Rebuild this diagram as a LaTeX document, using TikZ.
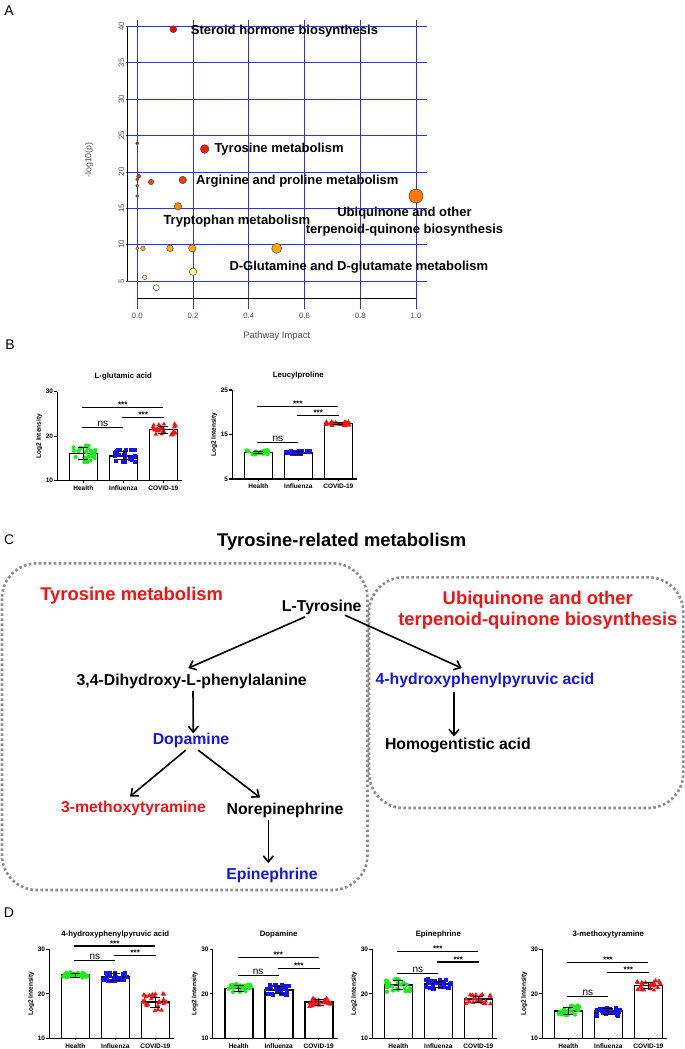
\documentclass[tikz,border=0pt]{standalone}
\usepackage{fontspec}
\setmainfont{Liberation Sans}
\usetikzlibrary{arrows.meta,calc}

\definecolor{gridblue}{RGB}{50,50,220}
\definecolor{ptgreen}{RGB}{30,235,30}
\definecolor{ptblue}{RGB}{20,20,235}
\definecolor{ptred}{RGB}{240,20,20}
\definecolor{boxgray}{RGB}{140,140,140}
\definecolor{txtred}{RGB}{240,20,20}
\definecolor{txtblue}{RGB}{20,20,230}
\definecolor{tickgray}{RGB}{80,80,80}

\newcommand{\fs}[1]{\fontsize{#1}{#1}\selectfont}

\tikzset{
  gridln/.style={draw=gridblue,line width=0.8},
  axisline/.style={line width=1.1,black},
  ticklab/.style={font=\bfseries\fs{6.5},inner sep=0},
  charttitle/.style={font=\bfseries\fs{7.8},inner sep=0},
  sigline/.style={line width=1.1,black},
  stars/.style={font=\bfseries\fs{8},anchor=base,inner sep=0},
  nslab/.style={font=\fs{10},anchor=base,inner sep=0},
  panellab/.style={font=\fs{14},inner sep=0},
  atick/.style={font=\fs{7.8},text=tickgray,inner sep=0},
  aname/.style={font=\bfseries\fs{13},inner sep=0},
  bubble/.style={draw=black!75,line width=0.45},
  cmp/.style={font=\bfseries\fs{15.8},inner sep=0,text height=11.5pt,text depth=3.3pt},
  redlab/.style={font=\bfseries\fontsize{18.4}{21.7}\selectfont,text=txtred,inner sep=0},
  arr/.style={-{Straight Barb[length=6pt,width=10pt]},line width=1.6},
  dotbox/.style={draw=boxgray,line width=2.6,dash pattern=on 2.6 off 2.4,rounded corners=35}
}

\newcommand{\mkG}[2]{\fill[ptgreen] (#1,#2) circle (2.1);}
\newcommand{\mkB}[2]{\fill[ptblue] (#1-2,#2-2) rectangle (#1+2,#2+2);}
\newcommand{\mkR}[2]{\fill[ptred] (#1,#2-2.6) -- (#1+2.3,#2+1.5) -- (#1-2.3,#2+1.5) -- cycle;}

% x0, ybottom, low, mid, high, title, y top sig, y second sig, y ns
\newcommand{\chartaxes}[9]{%
 \def\Xo{#1}\def\Yb{#2}\def\Vmin{#3}\def\Vmax{#5}%
 \draw[axisline] (#1,#2-89) -- (#1,#2) -- (#1+125,#2);
 \draw[axisline] (#1-3,#2) -- (#1,#2) (#1-3,#2-44.5) -- (#1,#2-44.5) (#1-3,#2-89) -- (#1,#2-89);
 \node[ticklab,anchor=east] (\Pn-ya) at (#1-4,#2) {#3};
 \node[ticklab,anchor=east] (\Pn-yb) at (#1-4,#2-44.5) {#4};
 \node[ticklab,anchor=east] (\Pn-yc) at (#1-4,#2-89) {#5};
 \draw[line width=0.6] (#1+26,#2) -- (#1+26,#2+2) (#1+66,#2) -- (#1+66,#2+2) (#1+106,#2) -- (#1+106,#2+2);
 \node[ticklab,rotate=90] (\Pn-yl) at (#1-18,#2-44.5) {Log2 Intensity};
 \node[charttitle] (\Pn-t) at (#1+66,#2-104) {#6};
 \node[ticklab] (\Pn-g1) at (#1+26,#2+7.5) {Health};
 \node[ticklab] (\Pn-g2) at (#1+66,#2+7.5) {Influenza};
 \node[ticklab] (\Pn-g3) at (#1+106,#2+7.5) {COVID-19};
 \draw[sigline] (#1+25,#7) -- (#1+106,#7);
 \node[stars] (\Pn-s1) at (#1+65.5,#7) {***};
 \draw[sigline] (#1+65,#8) -- (#1+107,#8);
 \node[stars] (\Pn-s2) at (#1+86,#8) {***};
 \draw[sigline] (#1+25,#9) -- (#1+66,#9);
 \node[nslab] (\Pn-ns) at (#1+45.5,#9-1) {ns};
}

% offset, mean, sd, marker, seed
\newcommand{\bgrp}[5]{%
 \pgfmathsetmacro\bCx{\Xo+#1}%
 \pgfmathsetmacro\bYt{\Yb-(#2-\Vmin)/(\Vmax-\Vmin)*89}%
 \pgfmathsetmacro\bYu{\Yb-(#2+#3-\Vmin)/(\Vmax-\Vmin)*89}%
 \pgfmathsetmacro\bYd{\Yb-(#2-#3-\Vmin)/(\Vmax-\Vmin)*89}%
 \pgfmathsetmacro\bYb{\Yb-0.6}%
 \filldraw[fill=white,draw=black,line width=1.6] (\bCx-14,\bYb) -- (\bCx-14,\bYt) -- (\bCx+14,\bYt) -- (\bCx+14,\bYb);
 \pgfmathsetseed{#5}%
 \foreach \i in {1,...,26}{%
   \pgfmathsetmacro\bPx{\bCx+12.5*rand}%
   \pgfmathsetmacro\bPy{\Yb-(#2+1.6*#3*rand-\Vmin)/(\Vmax-\Vmin)*89}%
   #4{\bPx}{\bPy}%
 }%
 \draw[line width=0.8] (\bCx,\bYu) -- (\bCx,\bYd) (\bCx-5,\bYu) -- (\bCx+5,\bYu) (\bCx-5,\bYd) -- (\bCx+5,\bYd);
}

\begin{document}
\begin{tikzpicture}[x=1pt,y=-1pt]
\useasboundingbox (0,0) rectangle (685,1049);
\fill[white] (0,0) rectangle (685,1049);

% ---------------- Panel A ----------------
\node[panellab] (labA) at (9,11) {A};
\foreach \v in {5,10,...,40}{
  \pgfmathsetmacro\yy{281-(\v-5)*7.2714}
  \draw[gridln] (126,\yy) -- (427,\yy);
  \node[atick,rotate=90] (ya\v) at (121.5,\yy) {\v};
}
\foreach \k/\l in {0/0.0,1/0.2,2/0.4,3/0.6,4/0.8,5/1.0}{
  \pgfmathsetmacro\xx{137.3+\k*55.74}
  \draw[gridln] (\xx,20) -- (\xx,309);
  \node[atick] (xa\k) at (\xx,315.5) {\l};
}
\draw[line width=0.9] (127,27.3) -- (127,281);
\draw[line width=0.9] (137.3,298) -- (416,298);
\node[font=\fs{8.8},text=tickgray,rotate=90,inner sep=0] (ylabA) at (89,160) {-log10(p)};
\node[font=\fs{9.4},text=tickgray,inner sep=0] (xlabA) at (276.7,335.7) {Pathway Impact};

\filldraw[bubble,fill={rgb,255:red,240;green,10;blue,0}] (173.3,29.3) circle (3.4);
\filldraw[bubble,fill={rgb,255:red,250;green,25;blue,0}] (204.7,149) circle (4.3);
\filldraw[bubble,fill={rgb,255:red,210;green,20;blue,0}] (137.3,143.3) circle (1.6);
\filldraw[bubble,fill={rgb,255:red,230;green,60;blue,0}] (138.7,176.3) circle (2);
\filldraw[bubble,fill={rgb,255:red,225;green,70;blue,0}] (137.3,179.3) circle (1.6);
\filldraw[bubble,fill={rgb,255:red,225;green,80;blue,0}] (137.3,185.7) circle (1.6);
\filldraw[bubble,fill={rgb,255:red,235;green,75;blue,0}] (151,182) circle (2.7);
\filldraw[bubble,fill={rgb,255:red,240;green,60;blue,0}] (182.7,180) circle (3.7);
\filldraw[bubble,fill={rgb,255:red,230;green,110;blue,0}] (137.3,196) circle (1.6);
\filldraw[bubble,fill={rgb,255:red,255;green,140;blue,0}] (178,206.3) circle (3.7);
\filldraw[bubble,fill={rgb,255:red,255;green,120;blue,0}] (416,196) circle (7);
\filldraw[bubble,fill={rgb,255:red,255;green,225;blue,60}] (137.3,248.3) circle (1.5);
\filldraw[bubble,fill={rgb,255:red,255;green,190;blue,0}] (143,248.3) circle (2.3);
\filldraw[bubble,fill={rgb,255:red,255;green,175;blue,0}] (170,248.3) circle (3.3);
\filldraw[bubble,fill={rgb,255:red,255;green,170;blue,0}] (192.3,248.3) circle (3.7);
\filldraw[bubble,fill={rgb,255:red,255;green,170;blue,0}] (276.7,248.3) circle (5);
\filldraw[bubble,fill={rgb,255:red,255;green,255;blue,130}] (193,271.7) circle (3.7);
\filldraw[bubble,fill={rgb,255:red,255;green,255;blue,190}] (144.7,277.3) circle (2.3);
\filldraw[bubble,fill={rgb,255:red,255;green,255;blue,235}] (156.3,287.7) circle (3);

\node[aname,anchor=west] (nSter) at (190.7,31) {Steroid hormone biosynthesis};
\node[aname,anchor=west] (nTyr) at (214.3,149) {Tyrosine metabolism};
\node[aname,anchor=west] (nArg) at (196,181.3) {Arginine and proline metabolism};
\node[aname,anchor=west] (nTrp) at (163.3,221) {Tryptophan metabolism};
\node[aname,align=center,font=\bfseries\fontsize{13}{16.7}\selectfont] (nUbq) at (404.5,221.7) {Ubiquinone and other\\terpenoid-quinone biosynthesis};
\node[aname,anchor=west] (nGlu) at (229.3,266.7) {D-Glutamine and D-glutamate metabolism};

% ---------------- Panel B ----------------
\node[panellab] (labB) at (10,345) {B};
\def\Pn{B1}
\chartaxes{57.3}{480.7}{10}{20}{30}{L-glutamic acid}{407.3}{417.3}{427.3}
\bgrp{26}{16.1}{1.4}{\mkG}{11}
\bgrp{66}{15.6}{0.9}{\mkB}{12}
\bgrp{106}{21.5}{0.8}{\mkR}{13}
\def\Pn{B2}
\chartaxes{232.3}{479}{5}{15}{25}{Leucylproline}{406.7}{415.7}{442.3}
\bgrp{26}{11}{0.3}{\mkG}{21}
\bgrp{66}{10.9}{0.3}{\mkB}{22}
\bgrp{106}{17.5}{0.3}{\mkR}{23}

% ---------------- Panel C ----------------
\node[panellab] (labC) at (9.3,539.3) {C};
\node[font=\bfseries\fs{18.4},inner sep=0] (ctitle) at (341.7,541.7) {Tyrosine-related metabolism};
\draw[dotbox] (2,563.3) rectangle (367.5,890);
\draw[dotbox] (369,577.3) rectangle (683.3,808);
\node[redlab] (tymet) at (131.7,596) {Tyrosine metabolism};
\node[redlab,align=center] (ubq) at (537.8,610.2) {Ubiquinone and other\\terpenoid-quinone biosynthesis};

\node[cmp] (ltyr) at (321.7,607.3) {L-Tyrosine};
\node[cmp] (dopa) at (191.7,681) {3,4-Dihydroxy-L-phenylalanine};
\node[cmp,text=txtblue] (dopam) at (191,740) {Dopamine};
\node[cmp,text=txtred] (mtyr) at (133.5,808.3) {3-methoxytyramine};
\node[cmp] (nore) at (285,810) {Norepinephrine};
\node[cmp,text=txtblue] (epi) at (272,875) {Epinephrine};
\node[cmp,text=txtblue] (hppa) at (485,680) {4-hydroxyphenylpyruvic acid};
\node[cmp] (hga) at (457.9,745) {Homogentistic acid};

\draw[arr] ([shift={(-16.7,2)}]ltyr.south) -- ([shift={(-3.4,-5.3)}]dopa.north);
\draw[arr] ([shift={(1.3,2.3)}]dopa.south) -- ([shift={(2.3,1)}]dopam.north);
\draw[arr] ([shift={(-5.3,2.6)}]dopam.south) -- ([shift={(-3.5,-4.2)}]mtyr.north);
\draw[arr] ([shift={(7.3,2.6)}]dopam.south) -- ([shift={(-25,-4.9)}]nore.north);
\draw[arr] ([shift={(-16.7,2.6)}]nore.south) -- ([shift={(-16.7,-4.3)}]epi.north -| nore.south);
\draw[arr] ([shift={(23.3,0.3)}]ltyr.south) -- ([shift={(-23.3,-4.3)}]hppa.north);
\draw[arr] ([shift={(-31,4.3)}]hppa.south) -- ([shift={(-3.9,-0.9)}]hga.north);

% ---------------- Panel D ----------------
\node[panellab] (labD) at (9,912.7) {D};
\def\Pn{D1}
\chartaxes{49.3}{1038.3}{10}{20}{30}{4-hydroxyphenylpyruvic acid}{946}{955.7}{960.7}
\bgrp{26}{24.2}{0.4}{\mkG}{31}
\bgrp{66}{23.8}{0.7}{\mkB}{32}
\bgrp{106}{18.1}{1.2}{\mkR}{33}
\def\Pn{D2}
\chartaxes{212.7}{1038.3}{10}{20}{30}{Dopamine}{957.7}{968.3}{975.3}
\bgrp{26}{21.2}{0.6}{\mkG}{41}
\bgrp{66}{20.8}{0.8}{\mkB}{42}
\bgrp{106}{18.1}{0.6}{\mkR}{43}
\def\Pn{D3}
\chartaxes{372.3}{1038.3}{10}{20}{30}{Epinephrine}{951.7}{962}{973.3}
\bgrp{26}{22}{1.0}{\mkG}{51}
\bgrp{66}{22.2}{0.7}{\mkB}{52}
\bgrp{106}{18.8}{0.7}{\mkR}{53}
\def\Pn{D4}
\chartaxes{542.3}{1038.3}{10}{20}{30}{3-methoxytyramine}{962.7}{972.7}{996.7}
\bgrp{26}{16.2}{0.8}{\mkG}{61}
\bgrp{66}{16.1}{0.7}{\mkB}{62}
\bgrp{106}{21.9}{0.7}{\mkR}{63}
\end{tikzpicture}
\end{document}
